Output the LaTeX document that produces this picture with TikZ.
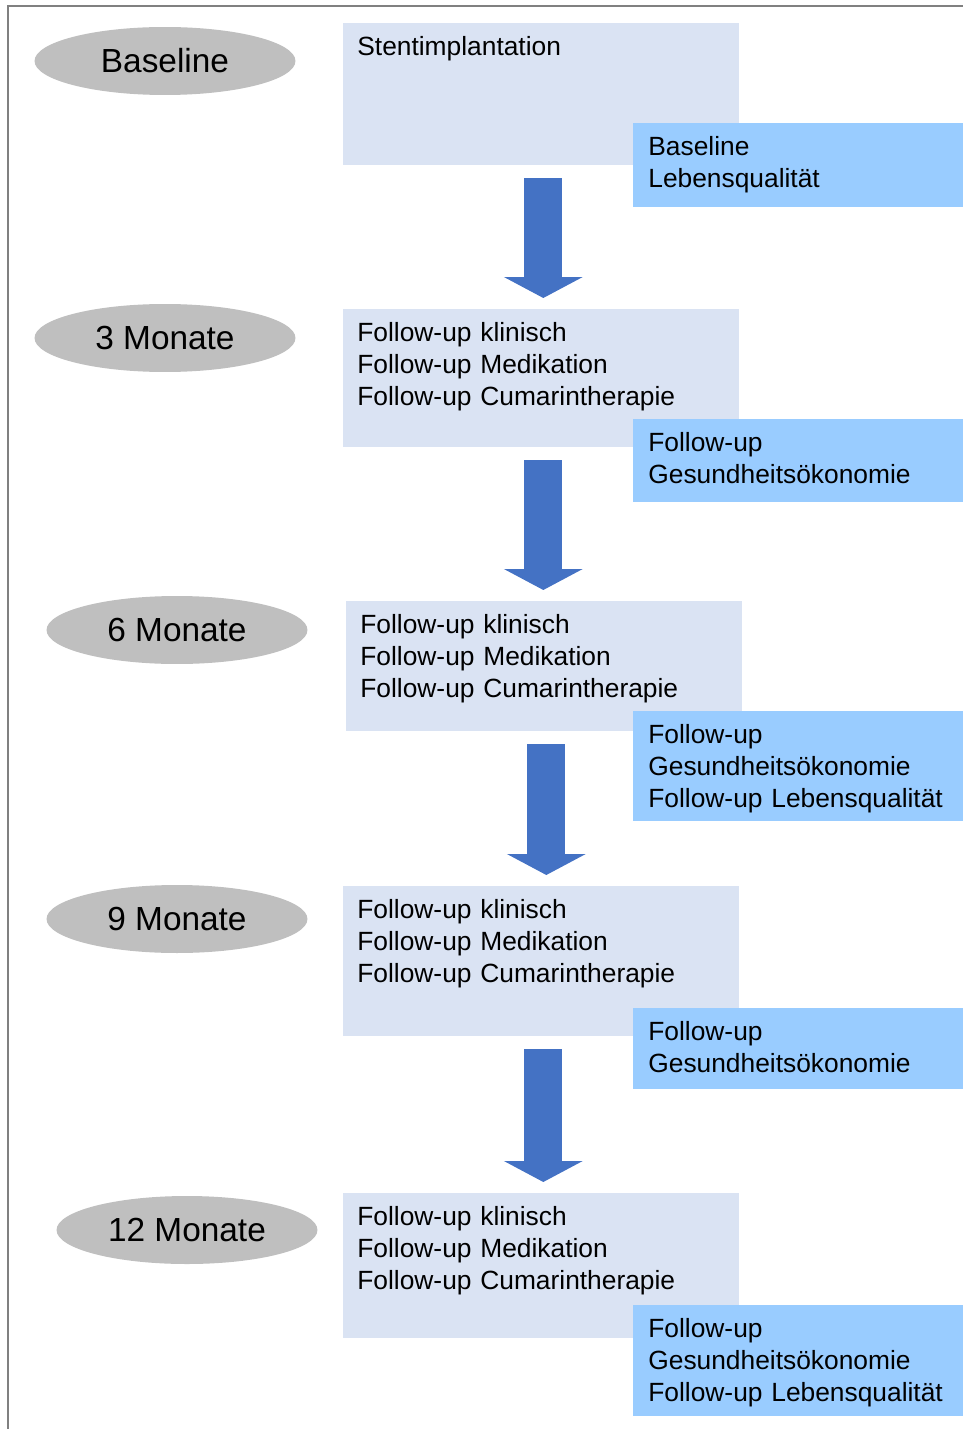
\documentclass[tikz,border=0pt]{standalone}
\usepackage{fontspec}
\setmainfont{Liberation Sans}
\usepackage{xcolor}
\usetikzlibrary{positioning, shapes.geometric, arrows.meta}
\definecolor{phasegray}{HTML}{BFBFBF}
\definecolor{taskfill}{HTML}{DAE3F3}
\definecolor{extrafill}{HTML}{99CCFF}
\definecolor{flowblue}{HTML}{4472C4}
\definecolor{framegray}{HTML}{808080}

\begin{document}
\begin{tikzpicture}
        [
        x=0.02cm, y=-0.02cm,
        phase/.style = {ellipse, fill=phasegray, minimum width=5.22cm, minimum height=1.36cm, inner sep=0pt, font=\fontsize{19}{23}\selectfont},
        task/.style = {fill=taskfill, anchor=north west, align=left, text width=7.36cm, inner xsep=0.28cm, inner ysep=0pt, text height=0.64cm, font=\fontsize{15}{18.2}\selectfont},
        extra/.style = {task, fill=extrafill, text width=6.0cm, inner xsep=0.3cm},
        flow/.style = {draw=flowblue, line width=0.76cm, -{Triangle[width=1.56cm, length=0.42cm]}, shorten <=0.25cm, shorten >=0.22cm}
        ]
    \useasboundingbox (0,0) rectangle (963,1429);
    \draw[framegray, line width=0.04cm] (7,6) -- (963,6) (8,6) -- (8,1429);

    \node[phase] (p0) at (165,61) {Baseline};
    \node[phase] (p3) at (165,338) {3 Monate};
    \node[phase] (p6) at (177,630) {6 Monate};
    \node[phase] (p9) at (177,919) {9 Monate};
    \node[phase] (p12) at (187,1230) {12 Monate};

    \node[task, text depth=2.20cm] (t1) at (343,23) {Stentimplantation};
    \node[task, text depth=2.12cm] (t2) at (343,309) {Follow-up klinisch\\Follow-up Medikation\\Follow-up Cumarintherapie};
    \node[task, text depth=1.96cm] (t3) at (346,601) {Follow-up klinisch\\Follow-up Medikation\\Follow-up Cumarintherapie};
    \node[task, text depth=2.36cm] (t4) at (343,886) {Follow-up klinisch\\Follow-up Medikation\\Follow-up Cumarintherapie};
    \node[task, text depth=2.26cm] (t5) at (343,1193) {Follow-up klinisch\\Follow-up Medikation\\Follow-up Cumarintherapie};

    \node[extra, text depth=1.04cm] (e1) at (633,123) {Baseline\\Lebensqualität};
    \node[extra, text depth=1.02cm] (e2) at (633,419) {Follow-up\\Gesundheitsökonomie};
    \node[extra, text depth=1.56cm] (e3) at (633,711) {Follow-up\\Gesundheitsökonomie\\Follow-up Lebensqualität};
    \node[extra, text depth=0.98cm] (e4) at (633,1008) {Follow-up\\Gesundheitsökonomie};
    \node[extra, text depth=1.58cm] (e5) at (633,1305) {Follow-up\\Gesundheitsökonomie\\Follow-up Lebensqualität};

    \foreach \a/\b in {t1/t2, t2/t3, t3/t4, t4/t5}
        \draw[flow] ([xshift=0.04cm]\a.south) -- ([xshift=0.04cm]\a.south |- \b.north);
\end{tikzpicture}
\end{document}
